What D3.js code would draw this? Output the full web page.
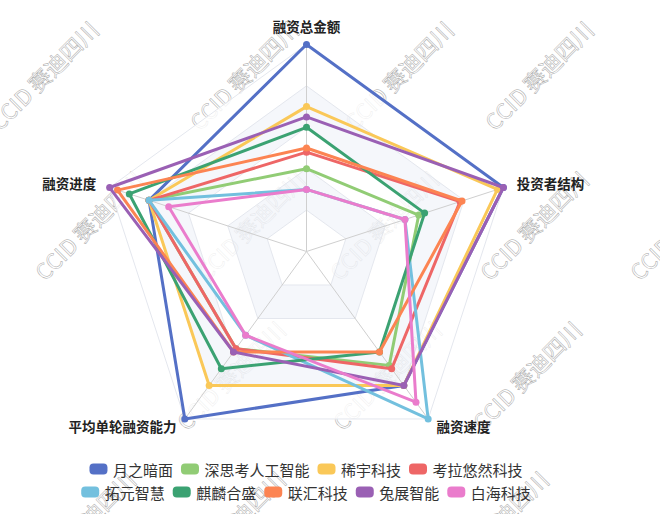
<!DOCTYPE html>
<html>
<head>
<meta charset="utf-8">
<script src="https://cdn.jsdelivr.net/npm/d3@7/dist/d3.min.js"></script>
<style>
  html, body { margin: 0; padding: 0; background: #fff; }
  svg { display: block; }
</style>
</head>
<body>
<svg id="chart" width="660" height="514"></svg>
<script>
// ---------- DATA ----------
const indicators = ["融资总金额", "投资者结构", "融资速度", "平均单轮融资能力", "融资进度"];
const seriesNames = ["月之暗面", "深思考人工智能", "稀宇科技", "考拉悠然科技", "拓元智慧", "麒麟合盛", "联汇科技", "兔展智能", "白海科技"];
const v_yuezhianmian = [100, 100, 80, 100, 80];
const v_shensikao    = [40, 57, 68, 58, 80];
const v_xiyu         = [70, 97, 80, 80, 80];
const v_kaola        = [48, 78, 70, 58, 80];
const v_tuoyuan      = [30, 50, 100, 50, 80];
const v_qilin        = [60, 60, 60, 70, 90];
const v_lianhui      = [50, 79, 60, 60, 96];
const v_tuzhan       = [65, 100, 80, 60, 100];
const v_baihai       = [30, 50, 90, 50, 70];
const seriesValues = [v_yuezhianmian, v_shensikao, v_xiyu, v_kaola, v_tuoyuan, v_qilin, v_lianhui, v_tuzhan, v_baihai];
const colors = ["#5470c6", "#91cc75", "#fac858", "#ee6666", "#73c0de", "#3ba272", "#fc8452", "#9a60b4", "#ea7ccc"];
const maxValue = 100;
const splitLevels = [20, 40, 60, 80, 100];
const watermarkText = "CCID 赛迪四川";

// ---------- LAYOUT ----------
const svg = d3.select("#chart");
const W = 660, H = 514;
const cx = 306.5, cy = 251.5, R = 207;
const FONT = "'Noto Sans CJK SC', 'Noto Sans', sans-serif";

const rScale = d3.scaleLinear().domain([0, maxValue]).range([0, R]);
const aScale = d3.scaleBand().domain(indicators).range([0, 2 * Math.PI]).paddingInner(0).paddingOuter(0);
const angleOf = name => aScale(name); // clockwise from top
const pt = (name, v) => {
  const a = angleOf(name), r = rScale(v);
  return [cx + r * Math.sin(a), cy - r * Math.cos(a)];
};

// ---------- WATERMARK (decoration) ----------
const wm = svg.append("g").attr("class", "watermark");
const wmLayout = [
  { y: 132, xs: [0, 200, 355, 495] },
  { y: 282, xs: [45, 207, 340, 490, 640] },
  { y: 432, xs: [187, 343, 483] },
  { y: 582, xs: [37, 187, 450] }
];
wmLayout.forEach(row => {
  row.xs.forEach(x => {
    const y = row.y;
    wm.append("text")
      .attr("x", x).attr("y", y)
      .attr("transform", `rotate(-45 ${x} ${y})`)
      .attr("font-family", FONT)
      .attr("font-size", 22)
      .attr("fill", "none")
      .attr("stroke", "#a8a8a8")
      .attr("stroke-width", 0.5)
      .text(watermarkText);
  });
});

// ---------- GRID ----------
const grid = svg.append("g");
const levels = [0].concat(splitLevels);
const ringPoly = v => indicators.map(n => pt(n, v));
for (let i = levels.length - 1; i >= 1; i--) {
  const outer = ringPoly(levels[i]);
  const inner = ringPoly(levels[i - 1]);
  const d = "M" + outer.map(p => p.join(",")).join("L") + "Z" +
            (levels[i - 1] > 0 ? "M" + inner.slice().reverse().map(p => p.join(",")).join("L") + "Z" : "");
  grid.append("path")
    .attr("d", d)
    .attr("fill", (i % 2 === 0) ? "#f3f5fa" : "#ffffff")
    .attr("fill-opacity", 0.8)
    .attr("fill-rule", "evenodd");
}
splitLevels.forEach(v => {
  grid.append("path")
    .attr("d", d3.line()(ringPoly(v)) + "Z")
    .attr("fill", "none")
    .attr("stroke", "#e4e7ee")
    .attr("stroke-width", 1);
});
indicators.forEach(n => {
  const p = pt(n, maxValue);
  grid.append("line")
    .attr("x1", cx).attr("y1", cy).attr("x2", p[0]).attr("y2", p[1])
    .attr("stroke", "#cfcfcf").attr("stroke-width", 1);
});

// ---------- AXIS NAMES ----------
const labelG = svg.append("g");
indicators.forEach(n => {
  const a = angleOf(n);
  const off = 14;
  let x = cx + (R + off) * Math.sin(a), y = cy - (R + off) * Math.cos(a);
  const s = Math.sin(a);
  let anchor = Math.abs(s) < 0.01 ? "middle" : (s > 0 ? "start" : "end");
  if (Math.abs(s) < 0.01) y = 26;
  else if (Math.cos(a) < 0) y = y - 4;
  labelG.append("text")
    .attr("x", x).attr("y", y)
    .attr("text-anchor", anchor)
    .attr("dominant-baseline", "central")
    .attr("font-family", FONT)
    .attr("font-size", 13.5)
    .attr("font-weight", "bold")
    .attr("fill", "#222")
    .text(n);
});

// ---------- SERIES ----------
const serG = svg.append("g");
const lineGen = d3.line().curve(d3.curveLinearClosed);
seriesValues.forEach((vals, si) => {
  const pts = indicators.map((n, i) => pt(n, vals[i]));
  serG.append("path")
    .attr("d", lineGen(pts))
    .attr("fill", "none")
    .attr("stroke", colors[si])
    .attr("stroke-width", 3)
    .attr("stroke-linejoin", "round");
  serG.selectAll(null).data(pts).enter().append("circle")
    .attr("cx", d => d[0]).attr("cy", d => d[1])
    .attr("r", 3.5)
    .attr("fill", colors[si]);
});

// ---------- LEGEND ----------
const legendRows = [seriesNames.slice(0, 4), seriesNames.slice(4)];
const legendY = [469, 492];
const iconW = 18, iconH = 11, iconGap = 5.5, itemGap = 8, legendCx = 306;
const legG = svg.append("g");
legendRows.forEach((row, ri) => {
  const rowG = legG.append("g");
  let x = 0;
  row.forEach(name => {
    const si = seriesNames.indexOf(name);
    rowG.append("rect")
      .attr("x", x).attr("y", legendY[ri] - iconH / 2)
      .attr("width", iconW).attr("height", iconH)
      .attr("rx", 4).attr("ry", 4)
      .attr("fill", colors[si]);
    const t = rowG.append("text")
      .attr("x", x + iconW + iconGap).attr("y", legendY[ri])
      .attr("dominant-baseline", "central")
      .attr("font-family", FONT)
      .attr("font-size", 15)
      .attr("fill", "#333")
      .text(name);
    x += iconW + iconGap + t.node().getComputedTextLength() + itemGap;
  });
  const total = x - itemGap;
  rowG.attr("transform", `translate(${legendCx - total / 2},0)`);
});
</script>
</body>
</html>
